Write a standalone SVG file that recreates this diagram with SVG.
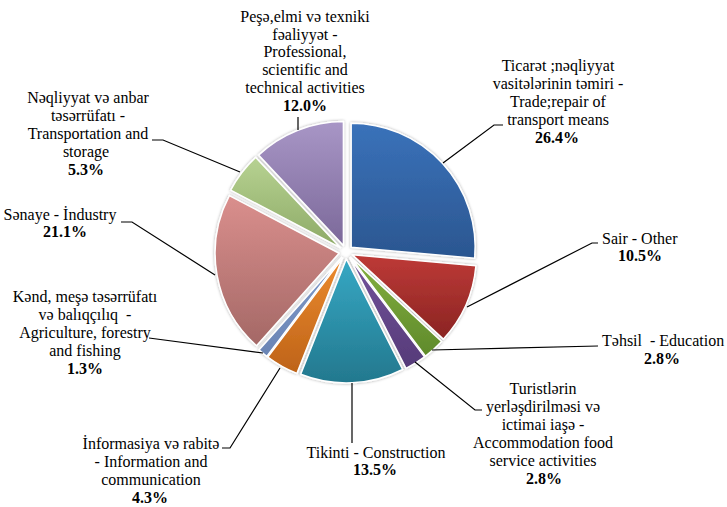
<svg xmlns="http://www.w3.org/2000/svg" width="727" height="507" viewBox="0 0 727 507">
<style>
.lbl{font-family:"Liberation Serif","Times New Roman",serif;font-size:16px;fill:#000;text-anchor:middle}
.l{text-anchor:start}
.b{font-weight:bold}
.sl{stroke:#fff;stroke-width:1.5;stroke-linejoin:round}
.ld{fill:none;stroke:#000;stroke-width:1.2}
</style>
<defs>
<filter id="sh" x="-10%" y="-10%" width="120%" height="120%">
<feDropShadow dx="0" dy="0" stdDeviation="1.6" flood-color="#000" flood-opacity="0.35"/>
</filter>
<linearGradient id="g1" x1="0" y1="0" x2="0" y2="1"><stop offset="0" stop-color="#3A72BA"/><stop offset="1" stop-color="#2B5690"/></linearGradient>
<linearGradient id="g2" x1="0" y1="0" x2="0" y2="1"><stop offset="0" stop-color="#BE3A37"/><stop offset="1" stop-color="#8A2422"/></linearGradient>
<linearGradient id="g3" x1="0" y1="0" x2="0" y2="1"><stop offset="0" stop-color="#84B040"/><stop offset="1" stop-color="#5F8A2B"/></linearGradient>
<linearGradient id="g4" x1="0" y1="0" x2="0" y2="1"><stop offset="0" stop-color="#74549C"/><stop offset="1" stop-color="#553A78"/></linearGradient>
<linearGradient id="g5" x1="0" y1="0" x2="0" y2="1"><stop offset="0" stop-color="#36A8C4"/><stop offset="1" stop-color="#23788E"/></linearGradient>
<linearGradient id="g6" x1="0" y1="0" x2="0" y2="1"><stop offset="0" stop-color="#EC8B2F"/><stop offset="1" stop-color="#BE6318"/></linearGradient>
<linearGradient id="g7" x1="0" y1="0" x2="0" y2="1"><stop offset="0" stop-color="#7E9ACA"/><stop offset="1" stop-color="#6A84B4"/></linearGradient>
<linearGradient id="g8" x1="0" y1="0" x2="0" y2="1"><stop offset="0" stop-color="#DA8F8D"/><stop offset="1" stop-color="#A46866"/></linearGradient>
<linearGradient id="g9" x1="0" y1="0" x2="0" y2="1"><stop offset="0" stop-color="#B7D292"/><stop offset="1" stop-color="#8DAA66"/></linearGradient>
<linearGradient id="g10" x1="0" y1="0" x2="0" y2="1"><stop offset="0" stop-color="#A896C6"/><stop offset="1" stop-color="#7B6899"/></linearGradient>
</defs>
<rect width="727" height="507" fill="#fff"/>
<g id="pie" filter="url(#sh)">
<g id="s-trade"><path class="sl" fill="url(#g1)" d="M351.16,247.27 L351.16,123.27 A124,124 0 0 1 474.68,258.16 Z"/></g>
<g id="s-other"><path class="sl" fill="url(#g2)" d="M352.40,254.84 L475.92,265.73 A124,124 0 0 1 443.33,339.15 Z"/></g>
<g id="s-education"><path class="sl" fill="url(#g3)" d="M350.69,257.19 L441.62,341.50 A124,124 0 0 1 425.49,356.09 Z"/></g>
<g id="s-tourism"><path class="sl" fill="url(#g4)" d="M349.71,257.93 L424.51,356.83 A124,124 0 0 1 406.01,368.41 Z"/></g>
<g id="s-construction"><path class="sl" fill="url(#g5)" d="M346.33,258.99 L402.63,369.47 A124,124 0 0 1 300.69,374.29 Z"/></g>
<g id="s-info"><path class="sl" fill="url(#g6)" d="M342.57,258.10 L296.93,373.40 A124,124 0 0 1 267.81,357.03 Z"/></g>
<g id="s-agri"><path class="sl" fill="url(#g7)" d="M341.55,257.41 L266.79,356.34 A124,124 0 0 1 258.97,349.91 Z"/></g>
<g id="s-industry"><path class="sl" fill="url(#g8)" d="M339.11,253.25 L256.53,345.75 A124,124 0 0 1 229.33,195.58 Z"/></g>
<g id="s-transport"><path class="sl" fill="url(#g9)" d="M340.43,247.76 L230.65,190.09 A124,124 0 0 1 255.55,157.36 Z"/></g>
<g id="s-professional"><path class="sl" fill="url(#g10)" d="M343.42,245.49 L258.54,155.09 A124,124 0 0 1 343.42,121.49 Z"/></g>
</g>
<g id="connectors">
<polyline class="ld" points="298,117 298,130"/>
<polyline class="ld" points="503,125 494,125 443,163"/>
<polyline class="ld" points="598,243 592,243 467,307"/>
<polyline class="ld" points="598,346 432,350"/>
<polyline class="ld" points="482,410 475,410 415,362"/>
<polyline class="ld" points="352,443 352,383"/>
<polyline class="ld" points="222,448 230,448 280,368"/>
<polyline class="ld" points="149,338 263,353"/>
<polyline class="ld" points="121,222 132,222 215,275"/>
<polyline class="ld" points="152,140 163,140 240,172"/>
</g>
<g id="label-professional" class="lbl">
<text x="305" y="21.5">Peşə,elmi və texniki</text>
<text x="305" y="39.5">fəaliyyət -</text>
<text x="305" y="57">Professional,</text>
<text x="305" y="75">scientific and</text>
<text x="305" y="92.5">technical activities</text>
<text x="305" y="110.5" class="b">12.0%</text>
</g>
<g id="label-trade" class="lbl">
<text x="558" y="70.5">Ticarət ;nəqliyyat</text>
<text x="558" y="88.5">vasitələrinin təmiri -</text>
<text x="558" y="106.5">Trade;repair of</text>
<text x="558" y="124.5">transport means</text>
<text x="557" y="142.5" class="b">26.4%</text>
</g>
<g id="label-other" class="lbl">
<text x="602" y="243.5" class="l">Sair - Other</text>
<text x="640" y="261" class="b">10.5%</text>
</g>
<g id="label-education" class="lbl">
<text x="602" y="346" class="l" xml:space="preserve">Təhsil  - Education</text>
<text x="662" y="363.5" class="b">2.8%</text>
</g>
<g id="label-tourism" class="lbl">
<text x="543" y="394">Turistlərin</text>
<text x="543" y="412">yerləşdirilməsi və</text>
<text x="543" y="430">ictimai iaşə -</text>
<text x="543" y="448">Accommodation food</text>
<text x="543" y="466">service activities</text>
<text x="544" y="484" class="b">2.8%</text>
</g>
<g id="label-construction" class="lbl">
<text x="376" y="457.5">Tikinti - Construction</text>
<text x="375" y="475" class="b">13.5%</text>
</g>
<g id="label-info" class="lbl">
<text x="151" y="448.5">İnformasiya və rabitə</text>
<text x="151" y="466.5">- Information and</text>
<text x="151" y="484.5">communication</text>
<text x="150" y="502.5" class="b">4.3%</text>
</g>
<g id="label-agri" class="lbl">
<text x="85" y="302">Kənd, meşə təsərrüfatı</text>
<text x="85" y="320" xml:space="preserve">və balıqçılıq  -</text>
<text x="85" y="338">Agriculture, forestry</text>
<text x="85" y="356">and fishing</text>
<text x="85" y="374" class="b">1.3%</text>
</g>
<g id="label-industry" class="lbl">
<text x="60" y="220">Sənaye - İndustry</text>
<text x="65" y="237" class="b">21.1%</text>
</g>
<g id="label-transport" class="lbl">
<text x="88" y="103">Nəqliyyat və anbar</text>
<text x="88" y="121">təsərrüfatı -</text>
<text x="88" y="139">Transportation and</text>
<text x="86" y="157">storage</text>
<text x="86" y="175" class="b">5.3%</text>
</g>
</svg>
